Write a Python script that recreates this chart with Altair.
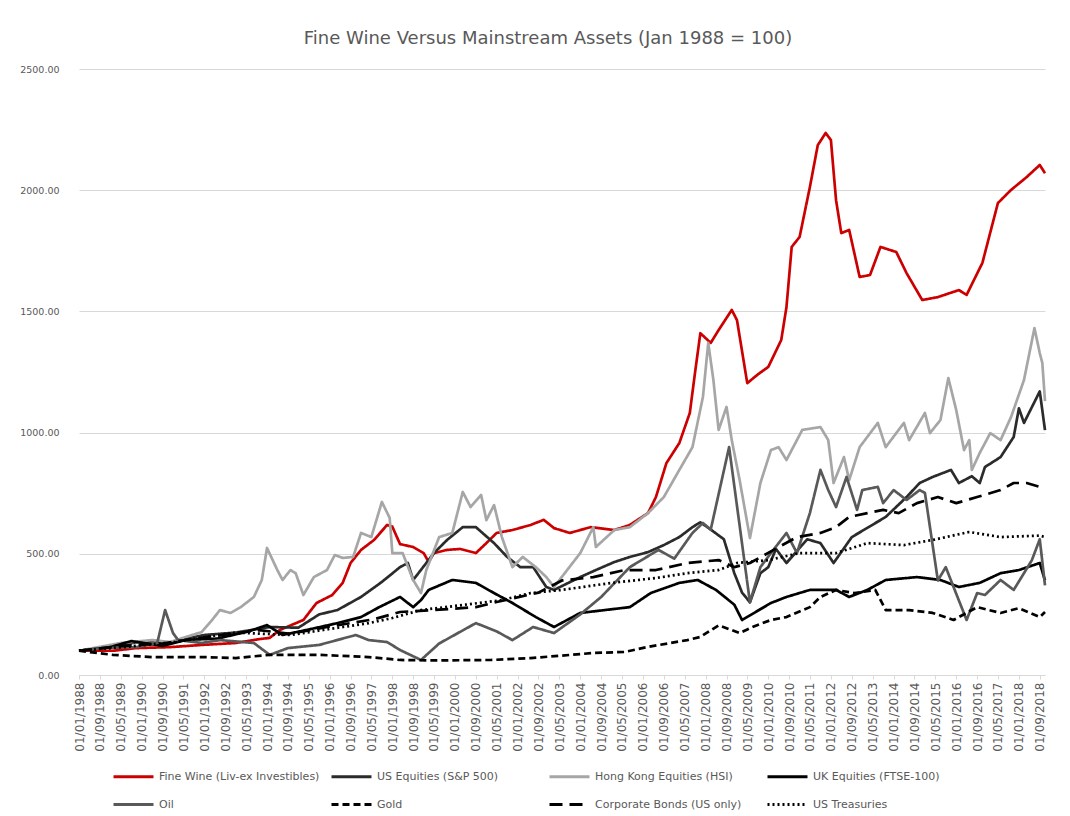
import altair as alt
import pandas as pd

SERIES = [
    "Fine Wine (Liv-ex Investibles)",
    "US Equities (S&P 500)",
    "Hong Kong Equities (HSI)",
    "UK Equities (FTSE-100)",
    "Oil",
    "Gold",
    "Corporate Bonds (US only)",
    "US Treasuries",
]
COLORS = ["#cc0000", "#2b2b2b", "#a6a6a6", "#000000", "#595959", "#000000", "#000000", "#000000"]
DASHES = [[1, 0], [1, 0], [1, 0], [1, 0], [1, 0], [7, 4], [13, 7], [2, 3]]

WINE_D = ["1988-01", "1989-02", "1989-11", "1990-12", "1991-12", "1993-01", "1993-10", "1994-02", "1994-06",
          "1995-03", "1995-08", "1996-02", "1996-06", "1996-09", "1997-01", "1997-06", "1997-11", "1998-01",
          "1998-04", "1998-09", "1999-01", "1999-03", "1999-05", "1999-10", "2000-03", "2000-09", "2001-01",
          "2001-05", "2001-11", "2002-06", "2002-11", "2003-03", "2003-09", "2004-05", "2005-02", "2005-08",
          "2006-03", "2006-06", "2006-10", "2007-03", "2007-07", "2007-09", "2007-11", "2008-03", "2008-06",
          "2008-11", "2009-01", "2009-05", "2009-09", "2010-01", "2010-06", "2010-08", "2010-10", "2011-01",
          "2011-05", "2011-08", "2011-11", "2012-01", "2012-03", "2012-05", "2012-08", "2012-12", "2013-04",
          "2013-08", "2014-02", "2014-06", "2014-12", "2015-06", "2016-02", "2016-05", "2016-11", "2017-05",
          "2017-10", "2018-04", "2018-09", "2018-11"]
WINE_V = [100, 100, 111, 115, 124, 132, 148, 153, 186,
          227, 297, 330, 380, 462, 516, 557, 619, 612,
          540, 528, 503, 466, 503, 516, 520, 503, 544,
          586, 598, 619, 640, 606, 586, 610, 598, 619,
          668, 734, 874, 957, 1081, 1250, 1410, 1370, 1423,
          1506, 1464, 1204, 1240, 1271, 1382, 1518, 1766, 1807,
          2013, 2186, 2236, 2207, 1959, 1823, 1836, 1642, 1650,
          1766, 1745, 1658, 1547, 1559, 1588, 1568, 1700, 1947,
          2001, 2054, 2104, 2070]

SPX_D = ["1988-01", "1989-01", "1989-11", "1990-07", "1990-10", "1991-06", "1992-01", "1993-01", "1994-02",
         "1995-01", "1995-09", "1996-04", "1997-01", "1997-09", "1998-04", "1998-07", "1998-09", "1999-05",
         "1999-10", "2000-04", "2000-09", "2001-04", "2001-09", "2002-02", "2002-07", "2002-12", "2003-03",
         "2004-01", "2004-07", "2005-02", "2005-08", "2006-03", "2006-09", "2007-03", "2007-08", "2007-11",
         "2008-03", "2008-08", "2008-12", "2009-03", "2009-06", "2009-10", "2010-01", "2010-04", "2010-08",
         "2011-04", "2011-09", "2012-02", "2012-09", "2013-10", "2014-06", "2014-11", "2015-04", "2015-11",
         "2016-02", "2016-07", "2016-10", "2016-12", "2017-06", "2017-11", "2018-01", "2018-03", "2018-09",
         "2018-11"]
SPX_V = [100, 115, 135, 140, 125, 150, 165, 175, 198,
         195, 250, 268, 322, 384, 445, 462, 392, 503,
         557, 610, 610, 544, 487, 445, 445, 363, 351,
         404, 433, 466, 487, 507, 536, 569, 610, 630,
         600, 560, 420, 340, 300, 420, 445, 520, 462,
         560, 544, 462, 569, 652, 734, 792, 817, 846,
         792, 820, 792, 858, 899, 982, 1100, 1040, 1170,
         1010]

HSI_D = ["1988-01", "1989-05", "1990-05", "1990-12", "1991-06", "1991-12", "1992-04", "1992-07", "1992-11",
         "1993-03", "1993-08", "1993-11", "1994-01", "1994-05", "1994-07", "1994-10", "1994-12", "1995-03",
         "1995-07", "1995-12", "1996-03", "1996-06", "1996-10", "1997-01", "1997-05", "1997-09", "1997-12",
         "1998-01", "1998-05", "1998-09", "1998-12", "1999-02", "1999-07", "1999-12", "2000-04", "2000-07",
         "2000-11", "2001-01", "2001-04", "2001-07", "2001-11", "2002-03", "2002-08", "2002-12", "2003-03",
         "2004-01", "2004-06", "2004-07", "2005-02", "2005-08", "2006-03", "2006-09", "2007-03", "2007-08",
         "2007-12", "2008-02", "2008-04", "2008-06", "2008-09", "2008-11", "2009-02", "2009-05", "2009-06",
         "2009-10", "2010-02", "2010-05", "2010-08", "2011-02", "2011-09", "2011-12", "2012-02", "2012-06",
         "2012-08", "2012-12", "2013-07", "2013-10", "2014-05", "2014-07", "2015-01", "2015-03", "2015-07",
         "2015-10", "2016-01", "2016-04", "2016-06", "2016-07", "2016-10", "2017-02", "2017-06", "2017-10",
         "2018-03", "2018-07", "2018-09", "2018-10", "2018-11"]
HSI_V = [100, 132, 144, 136, 157, 177, 227, 268, 256,
         280, 322, 392, 524, 433, 392, 433, 420, 330,
         404, 433, 495, 483, 487, 586, 569, 714, 648,
         503, 503, 392, 338, 433, 569, 586, 755, 693,
         743, 639, 701, 569, 445, 487, 445, 404, 363,
         503, 610, 528, 598, 610, 668, 734, 846, 940,
         1147, 1370, 1217, 1011, 1106, 969, 804, 627, 565,
         792, 928, 940, 887, 1011, 1023, 969, 792, 899,
         804, 940, 1040, 940, 1040, 969, 1081, 998, 1052,
         1225, 1093, 928, 969, 846, 916, 998, 969, 1064,
         1217, 1431, 1328, 1287, 1130]

FTSE_D = ["1988-01", "1989-01", "1989-09", "1990-09", "1991-06", "1992-06", "1993-06", "1994-01", "1994-07",
          "1995-06", "1996-04", "1997-01", "1997-08", "1998-04", "1998-09", "1998-12", "1999-03", "1999-12",
          "2000-09", "2001-04", "2001-11", "2002-08", "2003-03", "2004-01", "2005-08", "2006-04", "2007-03",
          "2007-10", "2008-05", "2008-12", "2009-03", "2010-02", "2010-08", "2011-05", "2012-03", "2012-08",
          "2013-03", "2013-10", "2014-10", "2015-07", "2016-02", "2016-10", "2017-06", "2018-01", "2018-09",
          "2018-11"]
FTSE_V = [100, 115, 140, 120, 145, 150, 180, 206, 165,
          190, 214, 239, 280, 322, 280, 309, 351, 392,
          380, 338, 297, 239, 198, 256, 280, 338, 380,
          392, 351, 290, 227, 297, 322, 351, 351, 322,
          351, 392, 404, 392, 363, 380, 420, 433, 462,
          390]

OIL_D = ["1988-01", "1988-10", "1989-11", "1990-07", "1990-10", "1991-01", "1991-03", "1991-12", "1992-07",
         "1993-08", "1994-02", "1994-09", "1995-09", "1996-11", "1997-04", "1997-11", "1998-04", "1998-12",
         "1999-07", "2000-09", "2001-05", "2001-11", "2002-07", "2003-03", "2004-01", "2004-09", "2005-08",
         "2006-07", "2007-01", "2007-08", "2007-12", "2008-03", "2008-10", "2009-06", "2009-10", "2010-02",
         "2010-08", "2010-12", "2011-05", "2011-09", "2011-12", "2012-03", "2012-07", "2012-11", "2013-01",
         "2013-07", "2013-09", "2014-01", "2014-06", "2014-11", "2015-01", "2015-06", "2015-09", "2015-12",
         "2016-05", "2016-09", "2016-12", "2017-06", "2017-11", "2018-03", "2018-06", "2018-09", "2018-11"]
OIL_V = [100, 111, 115, 132, 268, 173, 144, 132, 144,
         132, 83, 111, 124, 165, 144, 136, 103, 62,
         130, 214, 180, 144, 198, 173, 250, 322, 445,
         516, 480, 586, 627, 600, 940, 300, 445, 503,
         586, 503, 668, 846, 763, 693, 817, 681, 763,
         776, 709, 763, 722, 763, 751, 390, 445, 363,
         227, 338, 330, 392, 351, 420, 474, 560, 370]

GOLD_D = ["1988-01", "1989-02", "1990-05", "1991-12", "1993-01", "1994-02", "1995-09", "1997-04", "1998-04",
          "1999-06", "2001-03", "2002-06", "2003-06", "2004-06", "2005-06", "2006-03", "2007-06", "2007-11",
          "2008-06", "2009-02", "2009-07", "2010-02", "2010-08", "2011-05", "2011-09", "2012-03", "2012-10",
          "2013-06", "2013-10", "2014-07", "2015-04", "2015-12", "2016-09", "2017-06", "2018-01", "2018-09",
          "2018-11"]
GOLD_V = [100, 83, 74, 74, 70, 83, 83, 74, 62,
          60, 62, 70, 80, 91, 95, 116, 144, 157,
          205, 173, 198, 227, 239, 280, 322, 351, 338,
          351, 268, 268, 256, 227, 280, 256, 276, 239,
          260]

CORP_D = ["1988-01", "1989-06", "1990-09", "1992-01", "1993-10", "1994-10", "1996-01", "1997-06", "1998-04",
          "1999-05", "2000-09", "2001-05", "2002-09", "2003-06", "2004-06", "2005-06", "2006-06", "2007-06",
          "2008-06", "2008-12", "2009-06", "2010-12", "2011-09", "2012-03", "2012-08", "2013-03", "2013-09",
          "2014-03", "2014-10", "2015-06", "2016-01", "2016-09", "2017-06", "2017-11", "2018-04", "2018-09",
          "2018-11"]
CORP_V = [100, 120, 130, 155, 185, 170, 200, 230, 260,
          268, 280, 301, 340, 390, 404, 433, 433, 462,
          474, 445, 462, 569, 586, 610, 652, 668, 681,
          668, 709, 734, 709, 734, 763, 792, 792, 776,
          780]

TSY_D = ["1988-01", "1989-06", "1991-01", "1993-01", "1994-10", "1996-01", "1997-04", "1998-01", "1998-12",
         "2000-05", "2001-07", "2002-06", "2003-06", "2005-01", "2006-06", "2007-06", "2008-06", "2009-01",
         "2010-01", "2011-01", "2012-03", "2013-03", "2014-05", "2015-04", "2016-06", "2017-06", "2018-09",
         "2018-11"]
TSY_V = [100, 115, 135, 175, 165, 190, 214, 235, 268,
         290, 309, 338, 351, 380, 400, 420, 433, 462,
         474, 503, 503, 544, 536, 557, 590, 569, 575,
         569]

SERIES_DATA = [(WINE_D, WINE_V), (SPX_D, SPX_V), (HSI_D, HSI_V), (FTSE_D, FTSE_V),
               (OIL_D, OIL_V), (GOLD_D, GOLD_V), (CORP_D, CORP_V), (TSY_D, TSY_V)]

rows = []
for name, (dates, vals) in zip(SERIES, SERIES_DATA):
    for d, v in zip(dates, vals):
        rows.append({"series": name, "date": pd.Timestamp(d + "-01"), "value": v})
df = pd.DataFrame(rows)

# x tick labels every 8 months, 01/01/1988 ... 01/09/2018
TICK_START_YEAR, TICK_STEP_MONTHS, TICK_COUNT = 1988, 8, 47
tick_vals = []
for i in range(TICK_COUNT):
    m = i * TICK_STEP_MONTHS
    tick_vals.append(alt.DateTime(year=TICK_START_YEAR + m // 12, month=m % 12 + 1, date=1))

Y_TICKS = [0, 500, 1000, 1500, 2000, 2500]

legend = alt.Legend(
    title=None, orient="none", legendX=33, legendY=686, columns=4, direction="horizontal",
    gridAlign="all", columnPadding=5, rowPadding=-12, symbolType="stroke", symbolSize=1600,
    symbolStrokeWidth=3, labelFont="DejaVu Sans", labelFontSize=11, labelColor="#595959",
    labelOffset=4, labelLimit=300,
)

chart = alt.Chart(df).mark_line(strokeWidth=2.7, strokeJoin="round").encode(
    x=alt.X(
        "date:T",
        scale=alt.Scale(domain=[alt.DateTime(year=1988, month=1, date=1),
                                alt.DateTime(year=2018, month=11, date=1)], nice=False),
        axis=alt.Axis(values=tick_vals, format="%d/%m/%Y", labelAngle=-90, title=None, grid=False,
                      domainColor="#d9d9d9", tickColor="#d9d9d9", tickSize=4, labelFontSize=12,
                      labelPadding=3, labelColor="#595959", labelFont="DejaVu Sans",
                      labelOverlap=False, labelFlush=False),
    ),
    y=alt.Y(
        "value:Q",
        scale=alt.Scale(domain=[0, 2500], nice=False),
        axis=alt.Axis(values=Y_TICKS, format=".2f", title=None, domain=False, ticks=False,
                      gridColor="#d9d9d9", labelFontSize=9.5, labelPadding=20, labelColor="#595959",
                      labelFont="DejaVu Sans"),
    ),
    color=alt.Color("series:N", scale=alt.Scale(domain=SERIES, range=COLORS), legend=legend),
    strokeDash=alt.StrokeDash("series:N", scale=alt.Scale(domain=SERIES, range=DASHES), legend=legend),
).properties(
    width=966,
    height=606,
    autosize=alt.AutoSizeParams(type="none"),
    padding={"left": 71, "top": 61, "right": 17, "bottom": 138},
    title=alt.TitleParams(
        "Fine Wine Versus Mainstream Assets (Jan 1988 = 100)",
        font="DejaVu Sans", fontSize=18, fontWeight="normal", color="#595959",
        anchor="middle", offset=16, dx=-14,
    ),
).configure_view(stroke=None)

chart.save("out.html", embed_options={"renderer": "svg", "actions": False})
